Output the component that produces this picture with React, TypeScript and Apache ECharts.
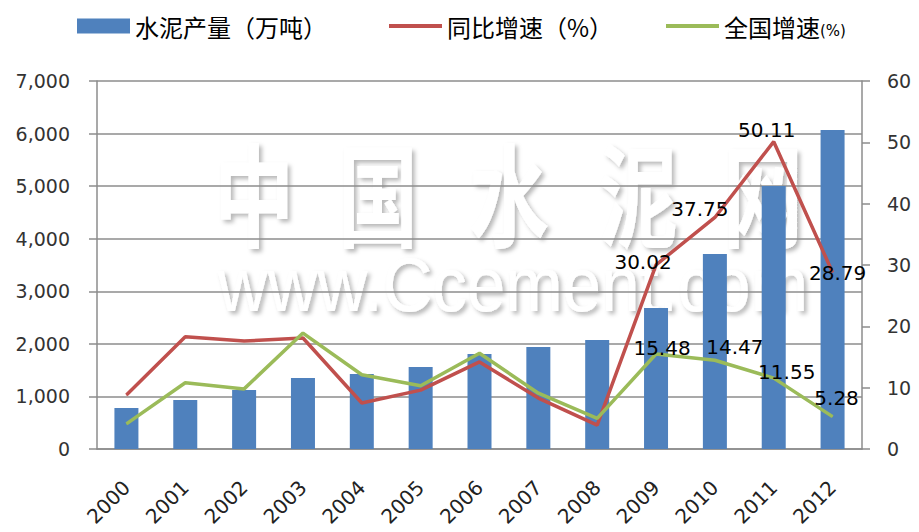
import React, { useEffect, useRef } from "react";
import * as echarts from "echarts";

const years = ["2000", "2001", "2002", "2003", "2004", "2005", "2006", "2007", "2008", "2009", "2010", "2011", "2012"];
const output = [780, 932, 1122, 1350, 1427, 1560, 1807, 1940, 2073, 2682, 3709, 5003, 6068];
const yoyGrowth = [8.8, 18.3, 17.6, 18.1, 7.5, 9.6, 14.2, 8.3, 3.9, 30.02, 37.75, 50.11, 28.79];
const nationalGrowth = [4.1, 10.8, 9.8, 18.9, 12.1, 10.3, 15.6, 9.1, 5.0, 15.48, 14.47, 11.55, 5.28];

const leftTicks = [0, 7000, 1000];
const rightTicks = [0, 60, 10];

const redOffsets: Record<number, number[]> = { 9: [-13, -3], 10: [-15, -8], 11: [-7, -12], 12: [5, 1] };
const greenOffsets: Record<number, number[]> = { 9: [6, -6], 10: [20, -13], 11: [13, -6], 12: [4, -19] };

const NUM_FONT = "DejaVu Sans";
const CJK_FONT = "Noto Sans CJK SC";

export default function App() {
  const ref = useRef<HTMLDivElement>(null);
  useEffect(() => {
    if (!ref.current) return;
    const chart = echarts.init(ref.current, undefined, { renderer: "svg" });
    const labelStyle = { color: "#000", fontSize: 20, fontFamily: NUM_FONT };
    const mk = (vals: number[], offs: Record<number, number[]>) =>
      vals.map((v, i) =>
        offs[i]
          ? { value: v, label: { show: true, position: "inside", offset: offs[i], formatter: v.toFixed(2), ...labelStyle } }
          : { value: v }
      );
    const wmChars = ["中", "国", "水", "泥", "网"];
    const wmX = [254, 378, 509, 638, 763];
    const wmStyle = {
      fill: "#ffffff",
      textShadowColor: "rgba(0,0,0,0.28)",
      textShadowBlur: 4,
      textShadowOffsetX: 3,
      textShadowOffsetY: 3,
      align: "center",
      verticalAlign: "middle",
    };
    chart.setOption({
      animation: false,
      backgroundColor: "#fff",
      graphic: [
        ...wmChars.map((c, i) => ({
          type: "text",
          z: -10,
          x: wmX[i],
          y: 190,
          scaleY: 1.4,
          style: { text: c, font: `bold 80px "${CJK_FONT}"`, lineHeight: 80, ...wmStyle },
        })),
        {
          type: "text",
          z: -10,
          x: 513,
          y: 284,
          scaleY: 1.1,
          style: { text: "www.Ccement.com", font: `69px "Liberation Sans"`, lineHeight: 60, ...wmStyle },
        },
      ],
      legend: [
        {
          left: 72,
          top: 9,
          itemWidth: 53,
          itemHeight: 15,
          itemGap: 5,
          data: [{ name: "水泥产量（万吨）", icon: "rect" }],
          textStyle: { fontSize: 24, fontFamily: CJK_FONT, color: "#000" },
        },
        {
          left: 384,
          top: 9,
          itemWidth: 53,
          itemHeight: 4,
          itemGap: 5,
          data: [{ name: "同比增速（%）", icon: "rect" }],
          textStyle: { fontSize: 24, fontFamily: CJK_FONT, color: "#000" },
        },
        {
          left: 661,
          top: 9,
          itemWidth: 53,
          itemHeight: 4,
          itemGap: 5,
          data: [{ name: "全国增速(%)", icon: "rect" }],
          formatter: () => "{a|全国增速}{b|(%)}",
          textStyle: {
            fontSize: 24,
            fontFamily: CJK_FONT,
            color: "#000",
            rich: {
              a: { fontSize: 24, fontFamily: CJK_FONT, color: "#000" },
              b: { fontSize: 15, fontFamily: NUM_FONT, color: "#000", verticalAlign: "bottom" },
            },
          },
        },
      ],
      grid: { left: 97, right: 57, top: 81, bottom: 83 },
      xAxis: {
        type: "category",
        data: years,
        axisLine: { lineStyle: { color: "#8c8c8c", width: 1.5 } },
        axisTick: { length: 7, lineStyle: { color: "#8c8c8c", width: 1.5 } },
        axisLabel: { rotate: 45, margin: 35, fontSize: 20, fontFamily: NUM_FONT, color: "#222" },
      },
      yAxis: [
        {
          type: "value",
          min: leftTicks[0],
          max: leftTicks[1],
          interval: leftTicks[2],
          axisLine: { show: true, lineStyle: { color: "#8c8c8c", width: 1.5 } },
          axisTick: { show: true, length: 8, lineStyle: { color: "#8c8c8c", width: 1.5 } },
          splitLine: { lineStyle: { color: "#8c8c8c", width: 1.5 } },
          axisLabel: {
            margin: 27,
            fontSize: 19,
            fontFamily: NUM_FONT,
            color: "#333",
            formatter: (v: number) => v.toLocaleString("en-US"),
          },
        },
        {
          type: "value",
          min: rightTicks[0],
          max: rightTicks[1],
          interval: rightTicks[2],
          position: "right",
          axisLine: { show: true, lineStyle: { color: "#8c8c8c", width: 1.5 } },
          axisTick: { show: true, length: 8, lineStyle: { color: "#8c8c8c", width: 1.5 } },
          splitLine: { show: false },
          axisLabel: { margin: 25, fontSize: 19, fontFamily: NUM_FONT, color: "#333" },
        },
      ],
      series: [
        {
          name: "水泥产量（万吨）",
          type: "bar",
          data: output,
          barWidth: 24,
          itemStyle: { color: "#4F81BD" },
          z: 2,
        },
        {
          name: "同比增速（%）",
          type: "line",
          yAxisIndex: 1,
          data: mk(yoyGrowth, redOffsets),
          symbol: "circle",
          symbolSize: 1,
          showSymbol: true,
          lineStyle: { color: "#C0504D", width: 3.5 },
          itemStyle: { color: "#C0504D" },
          z: 3,
        },
        {
          name: "全国增速(%)",
          type: "line",
          yAxisIndex: 1,
          data: mk(nationalGrowth, greenOffsets),
          symbol: "circle",
          symbolSize: 1,
          showSymbol: true,
          lineStyle: { color: "#9BBB59", width: 3.5 },
          itemStyle: { color: "#9BBB59" },
          z: 4,
        },
      ],
    });
    return () => chart.dispose();
  }, []);
  return <div ref={ref} style={{ width: 919, height: 532, position: "absolute", left: 0, top: 0 }} />;
}
